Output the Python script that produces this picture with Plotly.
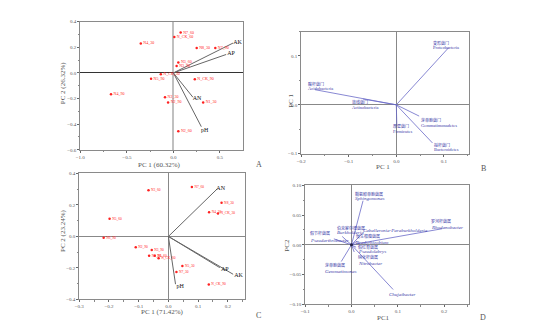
import plotly.graph_objects as go

# ---------------- Panel A (soil samples, PCA) ----------------
a_labels = ["N7_60", "N_CK_60", "N4_30", "N8_30", "N7_90", "N3_60", "N3_90", "N_CK_30",
            "N5_90", "N_CK_90", "N4_90", "N2_30", "N2_90", "N1_30", "N2_60"]
a_x = [0.078, 0.010, -0.350, 0.250, 0.450, 0.053, 0.035, -0.135, -0.240, 0.230, -0.670,
       -0.090, -0.057, 0.320, 0.053]
a_y = [0.315, 0.280, 0.230, 0.195, 0.195, 0.082, 0.054, -0.010, -0.046, -0.050, -0.167,
       -0.190, -0.230, -0.230, -0.456]
a_vec_names = ["AK", "AP", "AN", "pH"]
a_vec_x = [0.640, 0.567, 0.210, 0.300]
a_vec_y = [0.233, 0.144, -0.190, -0.420]
a_vec_lx = [0.690, 0.620, 0.255, 0.337]
a_vec_ly = [0.238, 0.151, -0.203, -0.451]

# ---------------- Panel B (phyla) ----------------
b_cn = ["变形菌门", "酸杆菌门", "放线菌门", "芽单胞菌门", "厚壁菌门", "拟杆菌门"]
b_lat = ["Proteobacteria", "Acidobacteria", "Actinobacteria", "Gemmatimonadetes",
         "Firmicutes", "Bacteroidetes"]
b_x = [0.110, -0.171, -0.070, 0.048, 0.001, 0.076]
b_y = [0.117, 0.031, 0.012, -0.023, -0.039, -0.078]
b_lx = [0.073, -0.189, -0.097, 0.047, -0.012, 0.076]
b_ly_cn = [0.127, 0.043, 0.006, -0.031, -0.044, -0.082]
b_ly_lat = [0.118, 0.033, -0.005, -0.042, -0.054, -0.092]

# ---------------- Panel C (soil samples, PCA) ----------------
c_labels = ["N3_60", "N7_60", "N5_60", "N8_30", "N4_30", "N_CK_30", "N6_90", "N2_90",
            "N3_90", "N1_90", "N1_60", "N_CK_60", "N5_30", "N7_30", "N_CK_90"]
c_x = [-0.067, 0.079, -0.198, 0.179, 0.137, 0.167, -0.218, -0.110, -0.056, -0.065,
       -0.046, -0.033, 0.047, 0.027, 0.136]
c_y = [0.293, 0.314, 0.112, 0.213, 0.154, 0.145, -0.008, -0.069, -0.086, -0.122,
       -0.122, -0.139, -0.187, -0.225, -0.305]
c_vec_names = ["AN", "AP", "AK", "pH"]
c_vec_x = [0.164, 0.173, 0.218, 0.024]
c_vec_y = [0.301, -0.198, -0.240, -0.303]
c_vec_lx = [0.176, 0.190, 0.236, 0.040]
c_vec_ly = [0.303, -0.208, -0.246, -0.318]

# ---------------- Panel D (genera) ----------------
d_cn = ["鞘氨醇单胞菌属", "罗河杆菌属", "", "伯克霍尔德菌属", "假节杆菌属", "慢生根瘤菌属",
        "假红育菌属", "硝化杆菌属", "芽单胞菌属", ""]
d_lat = ["Sphingomonas", "Rhodanobacter", "Caballeronia-Paraburkholderia", "Burkholderia",
         "Pseudarthrobacter", "Bradyrhizobium", "Pseudolabrys", "Nitrobacter",
         "Gemmatimonas", "Chujaibacter"]
d_x = [0.025, 0.196, 0.022, -0.020, -0.038, 0.012, 0.010, 0.006, -0.022, 0.090]
d_y = [0.074, 0.027, 0.018, 0.014, 0.010, 0.006, -0.004, -0.012, -0.028, -0.075]
d_lx = [0.004, 0.167, 0.021, -0.035, -0.094, 0.005, 0.010, 0.010, -0.062, 0.076]
d_ly_cn = [0.086, 0.040, 0.000, 0.029, 0.019, 0.014, -0.004, -0.021, -0.034, 0.000]
d_ly_lat = [0.078, 0.029, 0.024, 0.020, 0.007, 0.004, -0.011, -0.031, -0.044, -0.084]

SERIF = "Liberation Serif"
fig = go.Figure()

def vec_lines(xs, ys, xa, ya, color, width):
    for ex, ey in zip(xs, ys):
        fig.add_trace(go.Scatter(x=[0, ex], y=[0, ey], mode="lines", xaxis=xa, yaxis=ya,
                                 line=dict(color=color, width=width), showlegend=False,
                                 hoverinfo="skip"))

# Panel A
vec_lines(a_vec_x, a_vec_y, "x", "y", "#666666", 1.0)
fig.add_trace(go.Scatter(x=a_x, y=a_y, mode="markers+text", text=a_labels, textposition="middle right",
                         textfont=dict(size=4, color="#ff2020", family=SERIF),
                         marker=dict(size=2.5, color="#ff2020"), xaxis="x", yaxis="y", showlegend=False))
fig.add_trace(go.Scatter(x=a_vec_lx, y=a_vec_ly, mode="text", text=a_vec_names,
                         textfont=dict(size=6, color="#111111", family=SERIF),
                         xaxis="x", yaxis="y", showlegend=False))

# Panel B
vec_lines(b_x, b_y, "x2", "y2", "#6a6ac8", 0.8)

# Panel C
vec_lines(c_vec_x, c_vec_y, "x3", "y3", "#666666", 1.0)
fig.add_trace(go.Scatter(x=c_x, y=c_y, mode="markers+text", text=c_labels, textposition="middle right",
                         textfont=dict(size=3.5, color="#ff2020", family=SERIF),
                         marker=dict(size=2.5, color="#ff2020"), xaxis="x3", yaxis="y3", showlegend=False))
fig.add_trace(go.Scatter(x=c_vec_lx, y=c_vec_ly, mode="text", text=c_vec_names,
                         textfont=dict(size=6, color="#111111", family=SERIF),
                         xaxis="x3", yaxis="y3", showlegend=False))

# Panel D
vec_lines(d_x, d_y, "x4", "y4", "#6a6ac8", 0.8)
fig.add_trace(go.Scatter(x=[0], y=[0], mode="markers", marker=dict(size=3, color="#222244"),
                         xaxis="x4", yaxis="y4", showlegend=False))

annotations = []
BLUE = "#3a3aa8"
for lx, ycn, ylat, cn, lat in zip(b_lx, b_ly_cn, b_ly_lat, b_cn, b_lat):
    annotations.append(dict(x=lx, y=ycn, xref="x2", yref="y2", text=cn, showarrow=False,
                            xanchor="left", yanchor="middle",
                            font=dict(size=4, color=BLUE, family="Noto Sans CJK SC")))
    annotations.append(dict(x=lx, y=ylat, xref="x2", yref="y2", text=lat, showarrow=False,
                            xanchor="left", yanchor="middle",
                            font=dict(size=4.5, color=BLUE, family=SERIF)))
for lx, ycn, ylat, cn, lat in zip(d_lx, d_ly_cn, d_ly_lat, d_cn, d_lat):
    if cn:
        annotations.append(dict(x=lx, y=ycn, xref="x4", yref="y4", text=cn, showarrow=False,
                                xanchor="left", yanchor="middle",
                                font=dict(size=4, color=BLUE, family="Noto Sans CJK SC")))
    annotations.append(dict(x=lx, y=ylat, xref="x4", yref="y4", text="<i>" + lat + "</i>",
                            showarrow=False, xanchor="left", yanchor="middle",
                            font=dict(size=5, color=BLUE, family=SERIF)))

def title(txt, x, y, angle=0, size=7):
    annotations.append(dict(x=x, y=y, xref="paper", yref="paper", text=txt, showarrow=False,
                            xanchor="center", yanchor="middle", textangle=angle,
                            font=dict(size=size, color="#555555", family=SERIF)))

title("PC 1 (60.32%)", 155 / 533, 1 - 165 / 335)
title("PC 2 (26.32%)", 58 / 533, 1 - 82 / 335, -90)
title("PC 1", 382 / 533, 1 - 167 / 335)
title("PC 1", 288 / 533, 1 - 100 / 335, -90)
title("PC 1 (71.42%)", 158 / 533, 1 - 315 / 335)
title("PC 2 (23.24%)", 58 / 533, 1 - 232 / 335, -90)
title("PC1", 382 / 533, 1 - 321 / 335)
title("PC2", 285 / 533, 1 - 247 / 335, -90)
title("A", 256 / 533, 1 - 165 / 335, size=8)
title("B", 483 / 533, 1 - 169 / 335, size=8)
title("C", 256 / 533, 1 - 318 / 335, size=8)
title("D", 483 / 533, 1 - 320 / 335, size=8)

def ax(domain, rng, dtick, minor, fmt, zcolor, zwidth, anchor):
    return dict(domain=domain, range=rng, dtick=dtick, tick0=0, tickformat=fmt,
                showline=True, mirror=True, linecolor="#8a8a8a", linewidth=1,
                ticks="outside", ticklen=2, tickcolor="#666666", tickwidth=0.8,
                minor=dict(ticks="outside", ticklen=1.5, dtick=minor, tickcolor="#888888"),
                tickfont=dict(size=5, color="#555555", family=SERIF),
                showgrid=False, zeroline=True, zerolinecolor=zcolor, zerolinewidth=zwidth,
                anchor=anchor, fixedrange=True)

fig.update_layout(
    width=533, height=335, margin=dict(l=0, r=0, t=0, b=0),
    paper_bgcolor="white", plot_bgcolor="white", showlegend=False,
    xaxis=ax([76 / 533, 240 / 533], [-1.0, 0.745], 0.5, 0.25, ".1f", "#c0c0c0", 2, "y"),
    yaxis=ax([1 - 150 / 335, 1 - 20 / 335], [-0.6, 0.4], 0.2, 0.1, ".1f", "#333333", 1.1, "x"),
    xaxis2=ax([299 / 533, 468 / 533], [-0.2, 0.152], 0.1, 0.05, ".1f", "#888888", 1.2, "y2"),
    yaxis2=ax([1 - 154 / 335, 1 - 30 / 335], [-0.1, 0.15], 0.1, 0.05, ".1f", "#888888", 1.2, "x2"),
    xaxis3=ax([75 / 533, 242 / 533], [-0.3, 0.257], 0.1, 0.05, ".1f", "#888888", 1, "y3"),
    yaxis3=ax([1 - 302 / 335, 1 - 174 / 335], [-0.4, 0.4], 0.2, 0.1, ".1f", "#888888", 1, "x3"),
    xaxis4=ax([303 / 533, 468 / 533], [-0.1, 0.253], 0.1, 0.05, ".1f", "#888888", 1, "y4"),
    yaxis4=ax([1 - 307 / 335, 1 - 186 / 335], [-0.1, 0.1], 0.05, 0.025, ".2f", "#888888", 1, "x4"),
    annotations=annotations,
)

fig.write_html("out.html")
